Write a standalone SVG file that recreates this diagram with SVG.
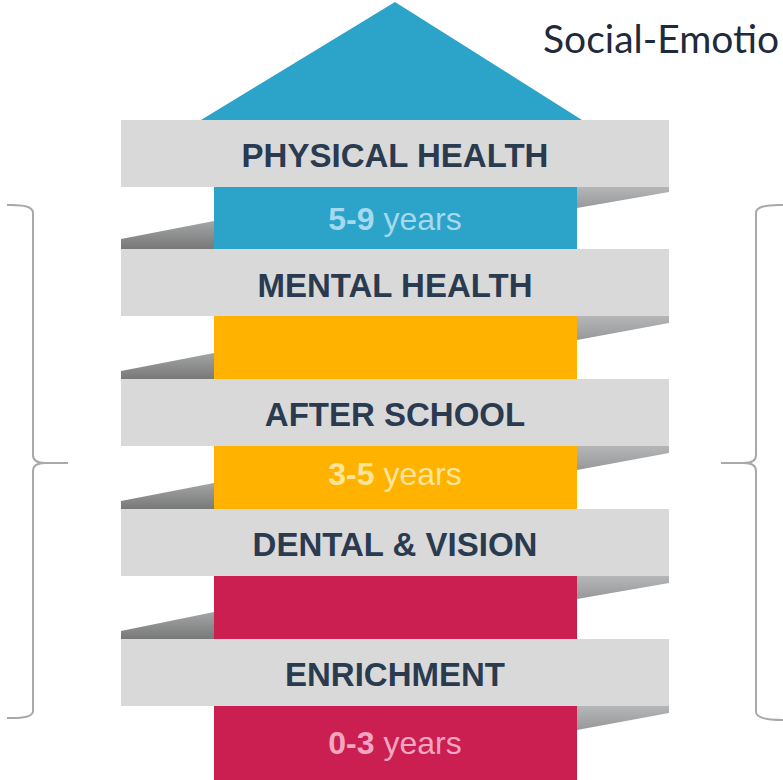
<svg xmlns="http://www.w3.org/2000/svg" width="783" height="780" viewBox="0 0 783 780">
<style>
.band{fill:#d9d9d9}
.lbl{font-family:"Liberation Sans",Arial,sans-serif;font-weight:bold;font-size:33px;fill:#2a3b50;text-anchor:middle}
.age{font-family:"Liberation Sans",Arial,sans-serif;font-size:32px;text-anchor:middle}
.brace{fill:none;stroke:#a9a9a9;stroke-width:2}
</style>
<defs>
<linearGradient id="gl" x1="0" y1="0" x2="0" y2="1">
<stop offset="0" stop-color="#a3a5a6"/>
<stop offset="1" stop-color="#787878"/>
</linearGradient>
<linearGradient id="gr" x1="0" y1="0" x2="0" y2="1">
<stop offset="0" stop-color="#b4b6b8"/>
<stop offset="1" stop-color="#96989a"/>
</linearGradient>
</defs>
<rect width="783" height="780" fill="#ffffff"/>
<text x="543" y="53" font-family="Lato,'Open Sans',sans-serif" font-size="39" fill="#1f2a3a">Social-Emotio</text>
<g id="roof"><polygon points="395,2 201,120 582,120" fill="#2ca3c9"/></g>
<g id="column">
<rect x="214" y="186" width="363" height="64" fill="#2ca3c9"/>
<rect x="214" y="315" width="363" height="65" fill="#ffb300"/>
<rect x="214" y="445" width="363" height="65" fill="#ffb300"/>
<rect x="214" y="575" width="363" height="65" fill="#cb1f51"/>
<rect x="214" y="705" width="363" height="75" fill="#cb1f51"/>
</g>
<g id="shadows">
<polygon points="121,239 214,221 214,249 121,249" fill="url(#gl)"/>
<polygon points="121,371 214,353 214,379 121,379" fill="url(#gl)"/>
<polygon points="121,501 214,483 214,509 121,509" fill="url(#gl)"/>
<polygon points="121,631 214,612 214,639 121,639" fill="url(#gl)"/>
<polygon points="577,187 669,187 669,192 577,208" fill="url(#gr)"/>
<polygon points="577,316 669,316 669,323 577,340" fill="url(#gr)"/>
<polygon points="577,446 669,446 669,453 577,470" fill="url(#gr)"/>
<polygon points="577,576 669,576 669,583 577,599" fill="url(#gr)"/>
<polygon points="577,706 669,706 669,713 577,730" fill="url(#gr)"/>
</g>
<g id="physical-health"><rect class="band" x="121" y="120" width="548" height="67"/><text class="lbl" x="395" y="167">PHYSICAL HEALTH</text></g>
<g id="age-5-9"><text class="age" x="395" y="230" fill="#a5d9ee"><tspan font-weight="bold">5-9</tspan> years</text></g>
<g id="mental-health"><rect class="band" x="121" y="249" width="548" height="67"/><text class="lbl" x="395" y="297">MENTAL HEALTH</text></g>
<g id="after-school"><rect class="band" x="121" y="379" width="548" height="67"/><text class="lbl" x="395" y="426">AFTER SCHOOL</text></g>
<g id="age-3-5"><text class="age" x="395" y="485" fill="#ffe49a"><tspan font-weight="bold">3-5</tspan> years</text></g>
<g id="dental-vision"><rect class="band" x="121" y="509" width="548" height="67"/><text class="lbl" x="395" y="556">DENTAL &amp; VISION</text></g>
<g id="enrichment"><rect class="band" x="121" y="639" width="548" height="67"/><text class="lbl" x="395" y="686">ENRICHMENT</text></g>
<g id="age-0-3"><text class="age" x="395" y="754" fill="#f2a6c2"><tspan font-weight="bold">0-3</tspan> years</text></g>
<g id="connectors">
<path class="brace" d="M7,205 Q33,204 33,213 L33,455 Q33,463 45,463 L68,463 M45,463 Q33,463 33,471 L33,711 Q33,719 7,718"/>
<path class="brace" d="M784,205 Q756,204 756,213 L756,455 Q756,463 744,463 L721,463 M744,463 Q756,463 756,471 L756,712 Q756,720 784,720"/>
</g>
</svg>
